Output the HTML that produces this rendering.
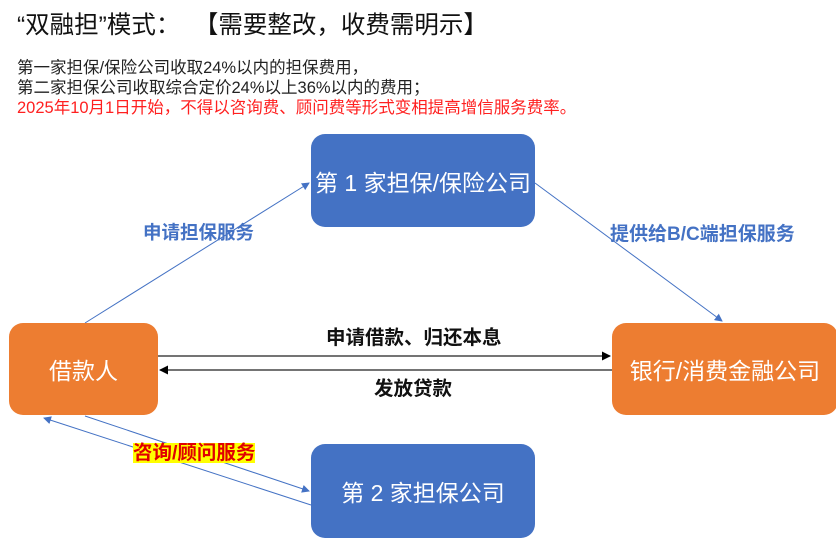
<!DOCTYPE html>
<html><head><meta charset="utf-8"><style>
body{margin:0;width:836px;height:538px;background:#fff;position:relative;overflow:hidden;font-family:"Liberation Sans","Noto Sans CJK SC",sans-serif}
.t{position:absolute;white-space:nowrap}
.box{position:absolute;border-radius:14px;color:#fff;display:flex;align-items:center;justify-content:center;font-size:23px}
.blue{background:#4472c4}.or{background:#ed7d31}
</style></head><body>
<div class="t" style="left:17px;top:6px;font-size:24.5px;color:#111">“双融担”模式：&nbsp;&nbsp;【需要整改，收费需明示】</div>
<div class="t" style="left:17px;top:58px;font-size:16.5px;line-height:20px;color:#222">第一家担保/保险公司收取24%以内的担保费用，<br>第二家担保公司收取综合定价24%以上36%以内的费用；<br><span style="color:#ff2020">2025年10月1日开始，不得以咨询费、顾问费等形式变相提高增信服务费率。</span></div>
<svg width="836" height="538" style="position:absolute;left:0;top:0">
<defs>
<marker id="b" markerWidth="8" markerHeight="8" refX="7" refY="4" orient="auto" markerUnits="userSpaceOnUse"><path d="M0,0L8,4L0,8z" fill="#4472c4"/></marker>
<marker id="k" markerWidth="9" markerHeight="9" refX="8" refY="4.5" orient="auto" markerUnits="userSpaceOnUse"><path d="M0,0L9,4.5L0,9z" fill="#000"/></marker>
</defs>
<g stroke="#4472c4" stroke-width="1" fill="none">
<line x1="85" y1="323" x2="309" y2="183" marker-end="url(#b)"/>
<line x1="535" y1="183" x2="722" y2="321" marker-end="url(#b)"/>
<line x1="85" y1="416" x2="309" y2="491" marker-end="url(#b)"/>
<line x1="311" y1="505" x2="44" y2="418" marker-end="url(#b)"/>
</g>
<g stroke="#222" stroke-width="1.3">
<line x1="158" y1="356" x2="610" y2="356" marker-end="url(#k)"/>
<line x1="612" y1="370" x2="160" y2="370" marker-end="url(#k)"/>
</g>
</svg>
<div class="box blue" style="left:311px;top:134px;width:224px;height:93px">第 1 家担保/保险公司</div>
<div class="box or" style="left:9px;top:323px;width:149px;height:92px">借款人</div>
<div class="box or" style="left:612px;top:323px;width:226px;height:92px">银行/消费金融公司</div>
<div class="box blue" style="left:311px;top:444px;width:224px;height:94px">第 2 家担保公司</div>
<div class="t" style="left:143px;top:219px;font-size:18.5px;font-weight:bold;color:#4472c4">申请担保服务</div>
<div class="t" style="left:610px;top:219px;font-size:19px;font-weight:bold;color:#4472c4">提供给B/C端担保服务</div>
<div class="t" style="left:326px;top:321px;font-size:19.5px;font-weight:bold;color:#111">申请借款、归还本息</div>
<div class="t" style="left:374px;top:372px;font-size:19.5px;font-weight:bold;color:#111">发放贷款</div>
<div class="t" style="left:133px;top:443px;font-size:19.5px;font-weight:bold;color:#e00000;background:#ffff00;line-height:20px">咨询/顾问服务</div>
</body></html>
